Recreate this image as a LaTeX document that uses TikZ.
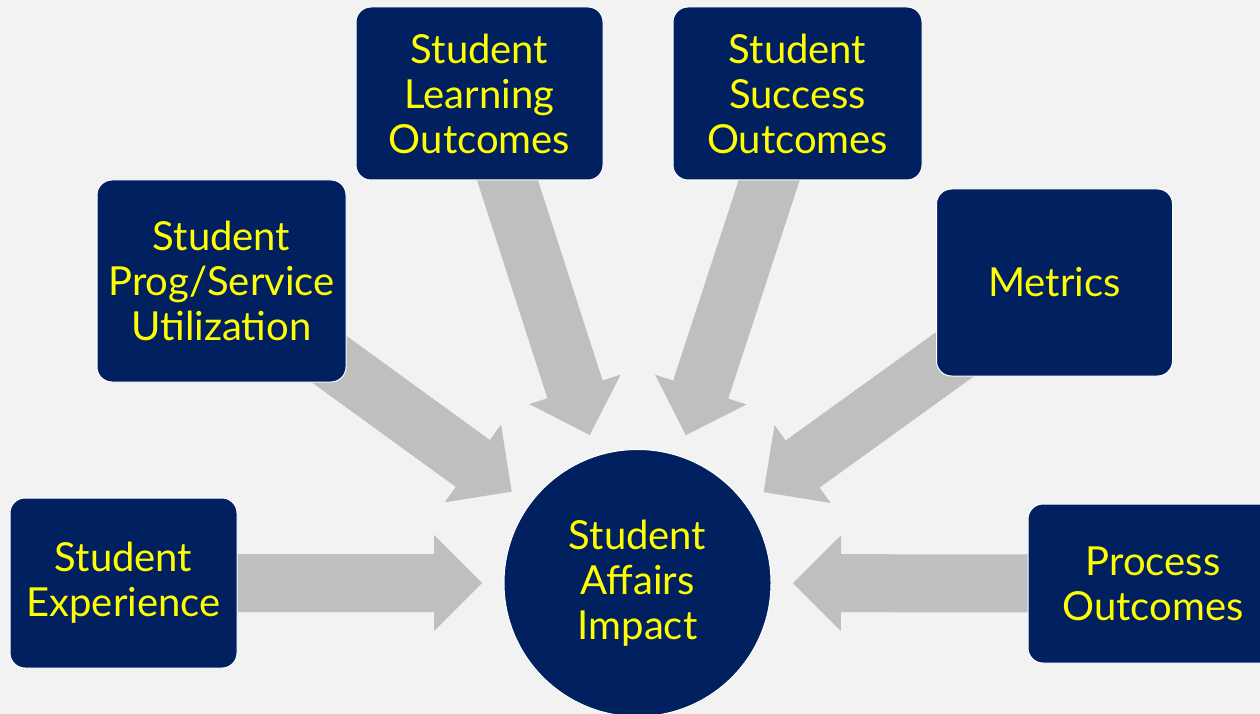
\documentclass[tikz,border=0pt]{standalone}
\usepackage{fontspec}
\setmainfont{Lato}
\usepackage{xcolor}
\usepackage{tikz}
\usetikzlibrary{calc, backgrounds}

\definecolor{navy}{HTML}{002060}
\definecolor{arrowgray}{HTML}{BFBFBF}
\definecolor{slidebg}{HTML}{F2F2F2}
\definecolor{labelyellow}{HTML}{FFFF00}

\begin{document}
\begin{tikzpicture}[x=1pt, y=-1pt,
	box/.style={rectangle, rounded corners=15pt, draw=white, line width=1pt, fill=navy, text=labelyellow, align=center, inner sep=0pt, font=\fontsize{40}{45}\selectfont},
	hub/.style={circle, draw=white, line width=1pt, fill=navy, text=labelyellow, align=center, inner sep=0pt, minimum size=267pt, font=\fontsize{40}{45}\selectfont}]

		\useasboundingbox (0, 0) rectangle (1260, 714);

		\node[hub] (impact) at (637.5, 583) {Student\\Affairs\\Impact};

		\node[box, minimum width=227pt, minimum height=170pt] (experience) at (123.5, 583) {Student\\Experience};
		\node[box, minimum width=249pt, minimum height=202pt] (prog) at (221.5, 281) {Student\\Prog/Service\\Utilization};
		\node[box, minimum width=247pt, minimum height=173pt] (learning) at (479.5, 93.5) {Student\\Learning\\Outcomes};
		\node[box, minimum width=249pt, minimum height=173pt] (success) at (797.5, 93.5) {Student\\Success\\Outcomes};
		\node[box, minimum width=236pt, minimum height=187pt] (metrics) at (1054.5, 282.5) {Metrics};
		\node[box, minimum width=250pt, minimum height=159pt] (process) at (1153, 583.5) {Process\\Outcomes};

		% block arrows, kept behind the boxes
		\begin{pgfonlayer}{background}
			\fill[slidebg] (0, 0) rectangle (1260, 714);
			\foreach \src in {experience, prog, learning, success, metrics, process} {
				\coordinate (tip) at ($(impact.center)!155.5pt!(\src.center)$);
				\coordinate (neck) at ($(tip)!48pt!(\src.center)$);
				\fill[arrowgray] ($(\src.center)!29pt!90:(tip)$) -- ($(neck)!29pt!90:(tip)$) -- ($(neck)!48pt!90:(tip)$) -- (tip) -- ($(neck)!48pt!-90:(tip)$) -- ($(neck)!29pt!-90:(tip)$) -- ($(\src.center)!29pt!-90:(tip)$) -- cycle;
			}
		\end{pgfonlayer}

	\end{tikzpicture}
\end{document}
